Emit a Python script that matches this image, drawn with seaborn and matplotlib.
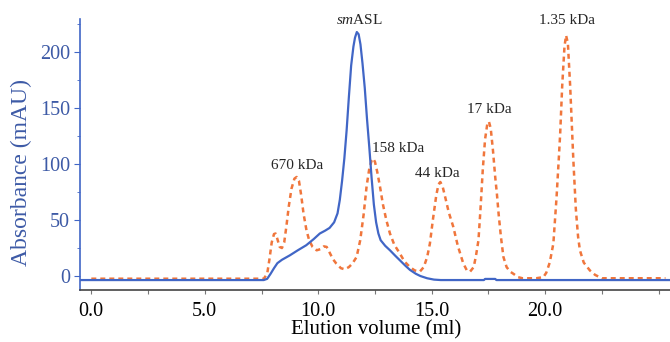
import matplotlib
matplotlib.use("Agg")
import matplotlib.pyplot as plt
import seaborn as sns
from matplotlib.ticker import MultipleLocator

# smASL elution trace (solid blue)
asl_x = [-0.5, 7.6, 7.75, 7.9, 8.05, 8.2, 8.4, 8.75, 9.1, 9.47, 9.8, 10.07, 10.3, 10.5,
         10.7, 10.85, 10.95, 11.05, 11.15, 11.25, 11.35, 11.45, 11.55, 11.62, 11.7,
         11.78, 11.86, 11.95, 12.05, 12.15, 12.25, 12.35, 12.45, 12.55, 12.65, 12.75,
         12.95, 13.16, 13.4, 13.6, 13.85, 14.04, 14.3, 14.5, 14.8, 15.1, 15.4, 17.3,
         17.35, 17.8, 17.85, 25.5]
asl_y = [-3.6, -3.6, -2.5, 2, 7, 11.5, 14.5, 18.5, 23, 27.5, 33, 38, 40.5, 43,
         48, 56, 68, 85, 105, 130, 160, 188, 205, 213, 218,
         216, 207, 190, 168, 140, 115, 88, 64, 48, 38, 32,
         27, 23, 18, 14, 9, 5.5, 2, 0, -2, -3.2, -3.6, -3.6,
         -2.6, -2.6, -3.6, -3.6]

# molecular weight standards (dashed orange)
std_x = [0, 7.6, 7.75, 7.85, 7.95, 8.05, 8.12, 8.2, 8.3, 8.4, 8.5, 8.6, 8.7, 8.82,
         8.95, 9.05, 9.15, 9.25, 9.35, 9.48, 9.6, 9.75, 9.93, 10.1, 10.25, 10.37,
         10.5, 10.65, 10.8, 11.0, 11.17, 11.35, 11.5, 11.69, 11.85, 12.0, 12.13,
         12.25, 12.35, 12.42, 12.5, 12.6, 12.72, 12.85, 13.0, 13.16, 13.35, 13.6,
         13.8, 14.04, 14.25, 14.48, 14.65, 14.8, 14.92, 15.05, 15.2, 15.3, 15.38,
         15.48, 15.6, 15.75, 15.95, 16.15, 16.39, 16.55, 16.69, 16.85, 16.95, 17.06,
         17.15, 17.25, 17.35, 17.45, 17.52, 17.6, 17.7, 17.8, 17.87, 17.95, 18.05,
         18.16, 18.3, 18.45, 18.6, 18.8, 19.0, 19.6, 19.92, 20.05, 20.2, 20.36,
         20.5, 20.6, 20.66, 20.75, 20.85, 20.92, 21.0, 21.1, 21.24, 21.35, 21.45,
         21.53, 21.7, 21.97, 22.2, 22.5, 25.3]
std_y = [-2.4, -2.4, 2, 15, 30, 37.5, 38, 33, 26, 25, 30, 45, 62, 78,
         87, 88.5, 85, 72, 56, 41, 32, 26, 23, 24, 26.5, 26,
         21, 15, 11, 7, 6, 8, 11, 17, 32, 55, 80,
         96, 103, 105, 102, 93, 80, 64, 50, 38, 28, 20,
         13, 8, 5, 4, 8, 17, 29, 50, 72, 82, 84,
         80, 70, 57, 44, 27, 11.3, 5, 3.9, 8, 18, 32,
         60, 95, 122, 136, 138, 132, 112, 88, 74, 55, 35,
         17, 8, 4, 2, -1, -2, -2, -1, 3, 12, 29,
         70, 105, 127, 170, 205, 215, 208, 170, 104, 60, 35,
         23, 12, 5, 1, -2, -2]

labels = ["670 kDa", "158 kDa", "44 kDa", "17 kDa", "1.35 kDa"]
label_x = [9.05, 13.5, 15.25, 17.55, 20.95]
label_y = [98.5, 114, 92, 149, 228.5]

x_ticks = [0, 5, 10, 15, 20, 25]
x_ticklabels = ["0.0", "5.0", "10.0", "15.0", "20.0", ""]
y_ticks = [0, 50, 100, 150, 200]

blue = "#4166c6"
label_blue = "#3d5aa6"
orange = "#f0763c"

sns.set_style("ticks")
plt.rcParams["font.family"] = ["Liberation Serif", "DejaVu Serif"]
plt.rcParams["mathtext.fontset"] = "custom"
plt.rcParams["mathtext.rm"] = "Liberation Serif"
plt.rcParams["mathtext.it"] = "Liberation Serif:italic"

fig = plt.figure(figsize=(6.7, 3.42), dpi=100)
ax = fig.add_axes([0.119, 0.152, 0.881, 0.792])

sns.lineplot(x=std_x, y=std_y, ax=ax, color=orange, linewidth=1.8,
             linestyle=(0, (2, 1.6)), sort=False)
sns.lineplot(x=asl_x, y=asl_y, ax=ax, color=blue, linewidth=1.6, sort=False)

ax.set_xlim(-0.51, 25.5)
ax.set_ylim(-12.5, 229.5)

ax.set_xticks(x_ticks)
ax.set_xticklabels(x_ticklabels)
ax.xaxis.set_minor_locator(MultipleLocator(2.5))
ax.set_yticks(y_ticks)
ax.yaxis.set_minor_locator(MultipleLocator(25))

ax.tick_params(axis="x", which="both", length=3, width=0.8, color="#777777",
               labelsize=14.5, labelcolor="black", pad=5.5)
ax.tick_params(axis="y", which="major", length=4, width=0.8, color=blue,
               labelsize=14.5, labelcolor=label_blue, pad=3)
ax.tick_params(axis="y", which="minor", length=2, width=0.6, color=blue)

sns.despine(ax=ax)
ax.spines["left"].set_color(blue)
ax.spines["left"].set_linewidth(1.2)
ax.spines["bottom"].set_color("#444444")
ax.spines["bottom"].set_linewidth(1.2)

ax.set_xlabel("Elution volume (ml)", fontsize=15, color="black", va="top")
ax.xaxis.set_label_coords(0.502, -0.112)
ax.set_ylabel("Absorbance (mAU)", fontsize=17, color=label_blue)
ax.yaxis.set_label_coords(-0.08, 0.434)

for t, lx, ly in zip(labels, label_x, label_y):
    ax.text(lx, ly, t, ha="center", va="center", fontsize=11, clip_on=False)
ax.text(11.8, 229, r"$\mathit{sm}$ASL", ha="center", va="center", fontsize=11,
        clip_on=False)

fig.savefig("out.png", dpi=100)
